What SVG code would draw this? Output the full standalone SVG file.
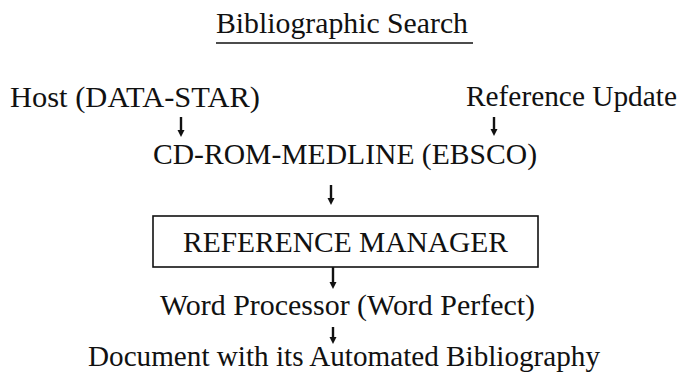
<svg xmlns="http://www.w3.org/2000/svg" width="680" height="374" viewBox="0 0 680 374">
<style>
text{font-family:"Liberation Serif","Times New Roman",serif;font-size:29px;fill:#111}
.ln{stroke:#111;stroke-width:1.5;fill:none}
.sh{stroke:#111;stroke-width:2.4;fill:none}
.hd{fill:#111;stroke:none}
.box{stroke:#111;stroke-width:1.6;fill:#fff}
</style>
<rect width="680" height="374" fill="#fff"/>
<g id="title">
<text x="216" y="33" textLength="252" lengthAdjust="spacingAndGlyphs">Bibliographic Search</text>
<line x1="216" y1="43" x2="473" y2="43" class="ln"/>
</g>
<g id="host"><text x="10" y="107" textLength="250" lengthAdjust="spacingAndGlyphs">Host (DATA-STAR)</text></g>
<g id="refupdate"><text x="466" y="106" textLength="211" lengthAdjust="spacingAndGlyphs">Reference Update</text></g>
<g id="cdrom"><text x="153" y="164" textLength="384" lengthAdjust="spacingAndGlyphs">CD-ROM-MEDLINE (EBSCO)</text></g>
<g id="refmanager">
<rect x="153" y="216" width="385" height="51" class="box"/>
<text x="183" y="252" textLength="325" lengthAdjust="spacingAndGlyphs">REFERENCE MANAGER</text>
</g>
<g id="wordproc"><text x="160" y="315" textLength="375" lengthAdjust="spacingAndGlyphs">Word Processor (Word Perfect)</text></g>
<g id="document"><text x="88" y="366" textLength="512" lengthAdjust="spacingAndGlyphs">Document with its Automated Bibliography</text></g>
<g id="connectors">
<path class="sh" d="M181,117 V131"/><path class="hd" d="M177.5,130 H184.5 L181,137 Z"/>
<path class="sh" d="M494,117 V130"/><path class="hd" d="M490.5,129 H497.5 L494,136 Z"/>
<path class="sh" d="M331,185 V199"/><path class="hd" d="M327.5,198 H334.5 L331,205 Z"/>
<path class="sh" d="M333,267 V283"/><path class="hd" d="M329.5,282 H336.5 L333,289 Z"/>
<path class="sh" d="M333,327 V338"/><path class="hd" d="M329.5,337 H336.5 L333,344 Z"/>
</g>
</svg>
